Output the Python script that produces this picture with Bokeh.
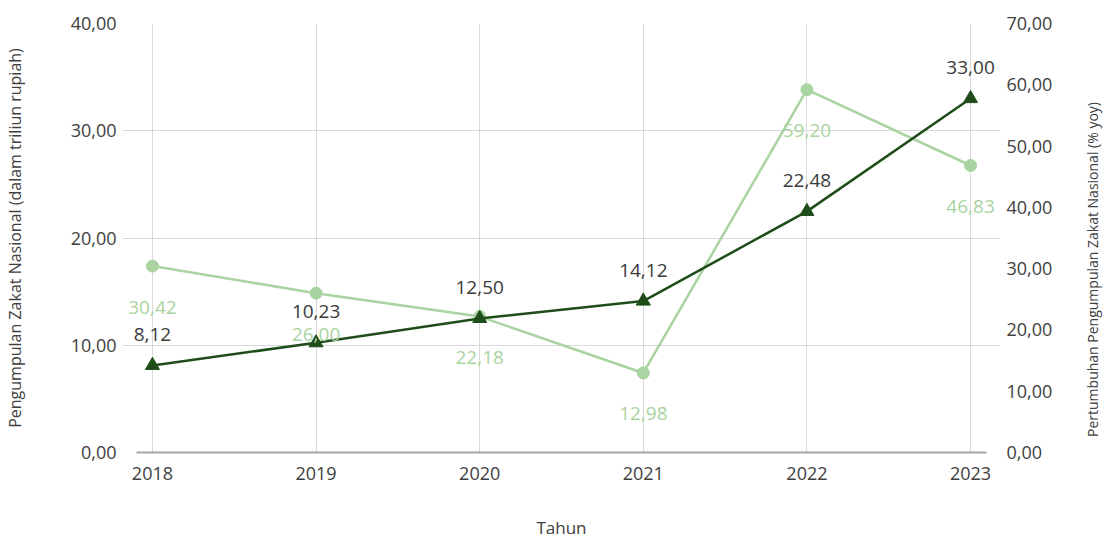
import math
from bokeh.plotting import figure
from bokeh.models import (LinearAxis, Range1d, FixedTicker, CustomJSTickFormatter,
                          ColumnDataSource, Label)
from bokeh.embed import file_html
from bokeh.resources import INLINE

years = [2018, 2019, 2020, 2021, 2022, 2023]
collection = [8.12, 10.23, 12.50, 14.12, 22.48, 33.00]   # left axis, triliun rupiah
growth = [30.42, 26.00, 22.18, 12.98, 59.20, 46.83]       # right axis, % yoy

left_ticks = [0, 10, 20, 30, 40]
right_ticks = [0, 10, 20, 30, 40, 50, 60, 70]

DARK = "#1f4d1a"
LIGHT = "#a9d3a0"
FONT = "Open Sans"
RIGHT_TITLE = "Pertumbuhan Pengumpulan Zakat Nasional (% yoy)"

def fmt(v):
    return f"{v:.2f}".replace(".", ",")

src_c = ColumnDataSource(dict(x=years, y=collection))
src_g = ColumnDataSource(dict(x=years, y=growth))

p = figure(width=1104, height=541, output_backend="svg", toolbar_location=None,
           x_range=Range1d(2017.817, 2023.183), y_range=Range1d(0, 40),
           min_border_left=120, min_border_right=104, min_border_top=23, min_border_bottom=88)
p.extra_y_ranges = {"g": Range1d(0, 70)}
p.outline_line_color = None
p.background_fill_color = "white"

comma_fmt = CustomJSTickFormatter(code="return tick.toFixed(2).replace('.', ',');")

# x axis
p.xaxis.ticker = FixedTicker(ticks=years)
p.xaxis.bounds = (2017.9, 2023.1)
p.xaxis.axis_label = "Tahun"
p.xaxis.axis_line_color = "#a6a6a6"
p.xaxis.axis_line_width = 2
p.xaxis.major_tick_line_color = None
p.xaxis.minor_tick_line_color = None
p.xaxis.major_label_standoff = 8
p.xaxis.axis_label_standoff = 33

# left y axis
p.yaxis.ticker = FixedTicker(ticks=left_ticks)
p.yaxis.formatter = comma_fmt
p.yaxis.axis_label = "Pengumpulan Zakat Nasional (dalam triliun rupiah)"
p.yaxis.axis_line_color = None
p.yaxis.major_tick_line_color = None
p.yaxis.minor_tick_line_color = None
p.yaxis.major_label_standoff = 0
p.yaxis.axis_label_standoff = 42

# right y axis (title drawn separately so that it reads upward)
ax2 = LinearAxis(y_range_name="g", ticker=FixedTicker(ticks=right_ticks), formatter=comma_fmt)
ax2.axis_line_color = None
ax2.major_tick_line_color = None
ax2.minor_tick_line_color = None
ax2.major_label_standoff = 0
p.add_layout(ax2, "right")

for ax in [p.xaxis[0], p.yaxis[0], ax2]:
    ax.major_label_text_font = FONT
    ax.major_label_text_font_size = "18px"
    ax.major_label_text_color = "#404040"
    ax.axis_label_text_font = FONT
    ax.axis_label_text_font_size = "16px"
    ax.axis_label_text_font_style = "normal"
    ax.axis_label_text_color = "#404040"
p.xaxis.axis_label_text_font_size = "17px"

p.add_layout(Label(x=37, y=183, x_units="screen", y_units="screen", text=RIGHT_TITLE,
                   angle=math.pi / 2, text_align="center", text_baseline="middle",
                   text_font=FONT, text_font_size="14px", text_color="#404040"), "right")

p.xgrid.grid_line_color = "#d9d9d9"
p.ygrid.grid_line_color = "#d9d9d9"

# growth series (right axis)
p.line("x", "y", source=src_g, y_range_name="g", line_color=LIGHT, line_width=2.5)
p.scatter("x", "y", source=src_g, y_range_name="g", marker="circle", size=12,
          fill_color=LIGHT, line_color=LIGHT)
for xv, yv in zip(years, growth):
    p.add_layout(Label(x=xv, y=yv, text=fmt(yv), y_range_name="g",
                       x_offset=0, y_offset=-41, text_align="center", text_baseline="middle",
                       text_font=FONT, text_font_size="19px", text_color=LIGHT))

# collection series (left axis)
p.line("x", "y", source=src_c, line_color=DARK, line_width=2.5)
p.scatter("x", "y", source=src_c, marker="triangle", size=14,
          fill_color=DARK, line_color=DARK)
for xv, yv in zip(years, collection):
    p.add_layout(Label(x=xv, y=yv, text=fmt(yv),
                       x_offset=0, y_offset=31, text_align="center", text_baseline="middle",
                       text_font=FONT, text_font_size="19px", text_color="#3a3a3a"))

open("out.html", "w").write(file_html(p, INLINE))
